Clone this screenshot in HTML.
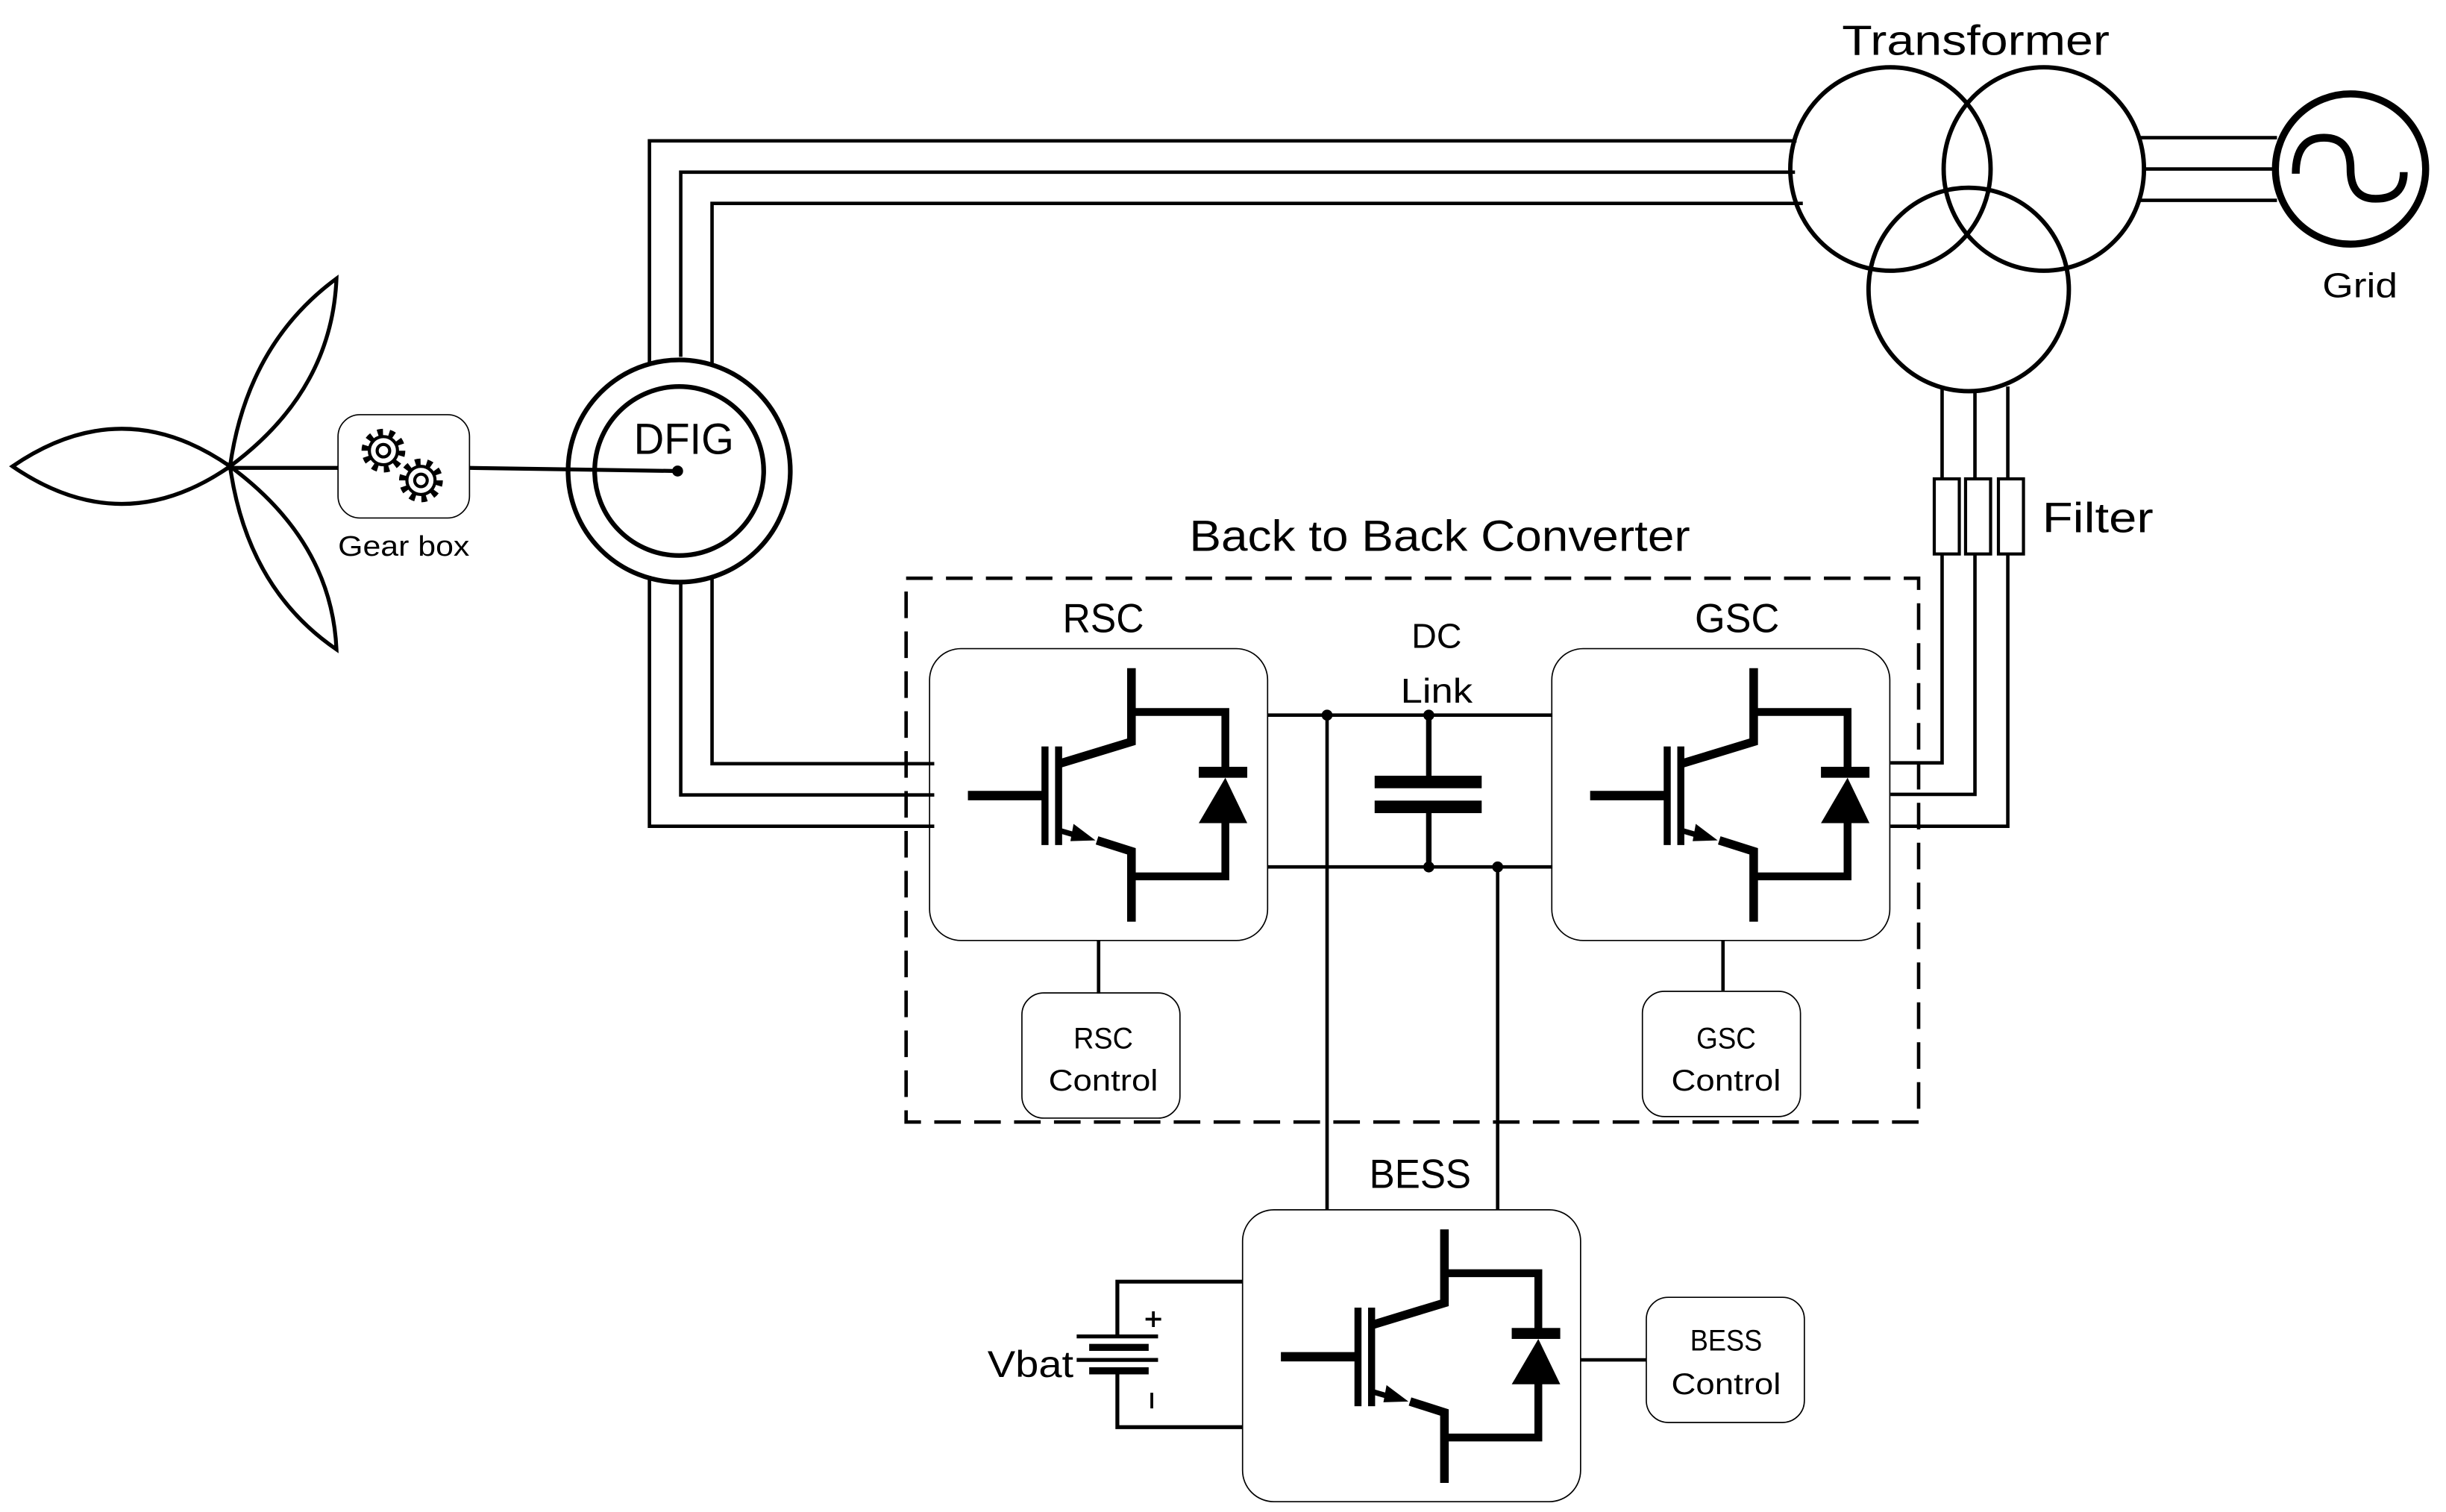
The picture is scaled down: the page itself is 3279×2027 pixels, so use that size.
<!DOCTYPE html>
<html><head><meta charset="utf-8"><style>
html,body{margin:0;padding:0;background:#fff;}
svg{display:block;}
text{font-family:"Liberation Sans",sans-serif;fill:#000;}
</style></head><body>
<svg width="3279" height="2027" viewBox="0 0 1563 966.2" preserveAspectRatio="none" xmlns="http://www.w3.org/2000/svg">
<defs>
<g id="igbt">
  <rect x="594" y="414.5" width="216" height="186.5" rx="20" fill="none" stroke="#000" stroke-width="0.8"/>
  <path d="M723,427 V474 L677,488" fill="none" stroke="#000" stroke-width="5.5"/>
  <path d="M723,455 H783 V491" fill="none" stroke="#000" stroke-width="5"/>
  <rect x="766" y="490" width="31" height="7"/>
  <path d="M783,497 L766,526 L797,526Z"/>
  <path d="M783,525 V560 H723" fill="none" stroke="#000" stroke-width="5"/>
  <path d="M723,589 V544 L701,537" fill="none" stroke="#000" stroke-width="5.5"/>
  <path d="M678,531 L690,534.5" stroke="#000" stroke-width="3.5"/>
  <path d="M686,526.5 L700,537 L684,537.5Z"/>
  <rect x="665.5" y="477" width="4.5" height="63"/>
  <rect x="674.2" y="477" width="4.5" height="63"/>
  <path d="M618.5,508.4 H668" stroke="#000" stroke-width="6"/>
</g>
<g id="gear" fill="none" stroke="#000">
  <circle r="11" stroke-width="6" stroke-dasharray="3.2 3.7"/>
  <circle r="9" stroke-width="2" fill="#fff"/>
  <circle r="4" stroke-width="2"/>
</g>
</defs>

<!-- wind turbine -->
<g fill="none" stroke="#000" stroke-width="2.5">
  <path d="M8,298 Q78,250 147,298 Q78,346 8,298Z"/>
  <path d="M147,298 Q158,220 215,178 Q212,250 147,298Z"/>
  <path d="M147,298 Q158,376 215,415 Q212,346 147,298Z"/>
</g>
<path d="M147,299 H217" stroke="#000" stroke-width="2.5"/>
<path d="M300,299 L433,301" stroke="#000" stroke-width="2.5"/>
<rect x="216" y="265" width="84" height="66" rx="14" fill="#fff" stroke="#000" stroke-width="0.8"/>
<use href="#gear" transform="translate(245,288)"/>
<use href="#gear" transform="translate(269,307)"/>
<text x="216" y="355" font-size="18" textLength="84" lengthAdjust="spacingAndGlyphs">Gear box</text>

<!-- DFIG -->
<g stroke="#000" stroke-width="2.2" fill="none">
  <path d="M415,232 V90 H1148"/>
  <path d="M435,228 V110 H1147"/>
  <path d="M455,232 V130 H1152"/>
  <path d="M415,368 V528 H597"/>
  <path d="M435,372 V508 H597"/>
  <path d="M455,368 V488 H597"/>
</g>
<circle cx="434" cy="301" r="71" fill="none" stroke="#000" stroke-width="3"/>
<circle cx="434" cy="301" r="54" fill="none" stroke="#000" stroke-width="3"/>
<circle cx="433" cy="301" r="3.5"/>
<text x="405" y="290" font-size="28" textLength="64" lengthAdjust="spacingAndGlyphs">DFIG</text>

<!-- Transformer -->
<g fill="none" stroke="#000" stroke-width="2.8">
  <ellipse cx="1208" cy="108" rx="64" ry="65"/>
  <ellipse cx="1306" cy="108" rx="64" ry="65"/>
  <ellipse cx="1258" cy="185" rx="64" ry="65"/>
</g>
<text x="1177" y="35" font-size="27" textLength="171" lengthAdjust="spacingAndGlyphs">Transformer</text>
<g stroke="#000" stroke-width="2.2">
  <path d="M1368,88 H1455"/>
  <path d="M1370,108 H1452"/>
  <path d="M1367,128 H1455"/>
</g>
<circle cx="1502" cy="108" r="48" fill="none" stroke="#000" stroke-width="4.5"/>
<path d="M1467,111 Q1467,88 1485,88 Q1502,88 1502,108 Q1502,127 1518,127 Q1536,127 1536,110" fill="none" stroke="#000" stroke-width="5"/>
<text x="1484" y="190" font-size="22" textLength="48" lengthAdjust="spacingAndGlyphs">Grid</text>

<!-- Filter lines -->
<g stroke="#000" stroke-width="2.2" fill="none">
  <path d="M1241,248 V306"/>
  <path d="M1262,250 V306"/>
  <path d="M1283,247 V306"/>
  <path d="M1241,354 V487.5 H1208"/>
  <path d="M1262,354 V507.6 H1208"/>
  <path d="M1283,354 V528 H1208"/>
</g>
<g fill="#fff" stroke="#000" stroke-width="2">
  <rect x="1236" y="306" width="16" height="48"/>
  <rect x="1256" y="306" width="16" height="48"/>
  <rect x="1277" y="306" width="16" height="48"/>
</g>
<text x="1305" y="340" font-size="27" textLength="71" lengthAdjust="spacingAndGlyphs">Filter</text>

<!-- Back to back converter dashed box -->
<rect x="579" y="369.5" width="647" height="347.5" fill="none" stroke="#000" stroke-width="2.2" stroke-dasharray="17 8.5"/>
<text x="760" y="352" font-size="28" textLength="320" lengthAdjust="spacingAndGlyphs">Back to Back Converter</text>
<text x="679" y="404" font-size="26" textLength="52" lengthAdjust="spacingAndGlyphs">RSC</text>
<text x="1083" y="404" font-size="26" textLength="54" lengthAdjust="spacingAndGlyphs">GSC</text>
<text x="902" y="414" font-size="22" textLength="32" lengthAdjust="spacingAndGlyphs">DC</text>
<text x="895" y="449" font-size="22" textLength="46" lengthAdjust="spacingAndGlyphs">Link</text>

<use href="#igbt"/>
<use href="#igbt" transform="translate(397.6,0)"/>
<use href="#igbt" transform="translate(200,358.6)"/>

<!-- DC link -->
<g stroke="#000" stroke-width="2.2" fill="none">
  <path d="M810,457 H992"/>
  <path d="M810,554 H992"/>
  <path d="M848,457 V773"/>
  <path d="M957,554 V773"/>
</g>
<path d="M913,457 V496 M913,519 V554" stroke="#000" stroke-width="3.5"/>
<rect x="878.4" y="495.7" width="68.4" height="8"/>
<rect x="878.4" y="511.6" width="68.4" height="8"/>
<circle cx="848" cy="457" r="3.5"/>
<circle cx="913" cy="457" r="3.5"/>
<circle cx="913" cy="554" r="3.5"/>
<circle cx="957" cy="554" r="3.5"/>

<!-- controls -->
<path d="M702,601 V635 M1101,601 V633" stroke="#000" stroke-width="2.2"/>
<rect x="653" y="634.5" width="101" height="80" rx="14" fill="none" stroke="#000" stroke-width="0.8"/>
<text x="686" y="670" font-size="19" textLength="38" lengthAdjust="spacingAndGlyphs">RSC</text>
<text x="670" y="697" font-size="19" textLength="70" lengthAdjust="spacingAndGlyphs">Control</text>
<rect x="1049.5" y="633.5" width="101" height="80" rx="14" fill="none" stroke="#000" stroke-width="0.8"/>
<text x="1084" y="670" font-size="19" textLength="38" lengthAdjust="spacingAndGlyphs">GSC</text>
<text x="1068" y="697" font-size="19" textLength="70" lengthAdjust="spacingAndGlyphs">Control</text>

<!-- BESS -->
<text x="875" y="759" font-size="26" textLength="65" lengthAdjust="spacingAndGlyphs">BESS</text>
<path d="M1010,869 H1052" stroke="#000" stroke-width="2.2"/>
<rect x="1052" y="829" width="101" height="80" rx="14" fill="none" stroke="#000" stroke-width="0.8"/>
<text x="1080" y="863" font-size="19" textLength="46" lengthAdjust="spacingAndGlyphs">BESS</text>
<text x="1068" y="891" font-size="19" textLength="70" lengthAdjust="spacingAndGlyphs">Control</text>

<!-- battery -->
<g stroke="#000" fill="none">
  <path d="M794,819 H714 V854" stroke-width="2.5"/>
  <path d="M714,876 V912 H794" stroke-width="2.5"/>
  <path d="M688,854 H740 M688,869 H740" stroke-width="2.5"/>
  <path d="M696,861 H734 M696,876 H734" stroke-width="4.5"/>
  <path d="M732,843 H742 M737,838 V848" stroke-width="1.8"/>
  <path d="M736,890 V900" stroke-width="1.8"/>
</g>
<text x="631" y="880" font-size="24" textLength="55" lengthAdjust="spacingAndGlyphs">Vbat</text>
</svg>
</body></html>
